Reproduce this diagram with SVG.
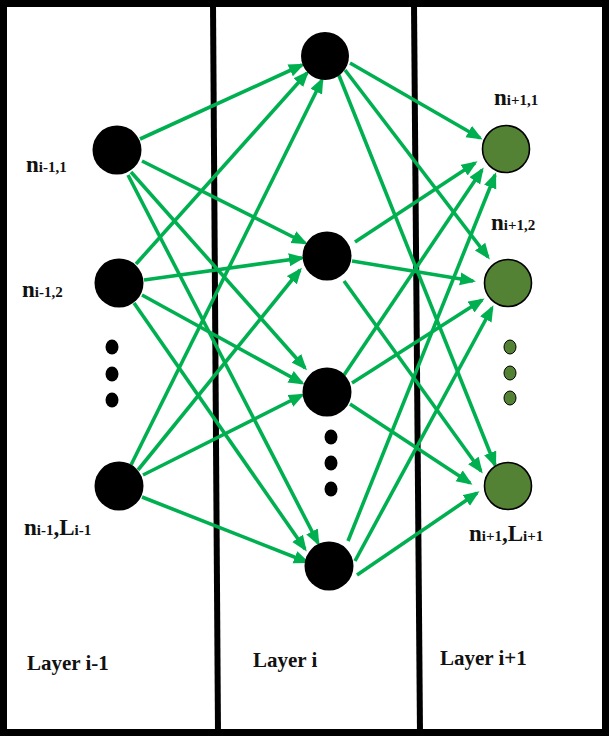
<svg xmlns="http://www.w3.org/2000/svg" width="609" height="737" viewBox="0 0 609 737">
  <style>
    .frame { fill: none; stroke: #000; stroke-width: 7; }
    .divider { stroke: #000; stroke-width: 6; }
    .neuron { fill: #000; }
    .out { fill: #548235; stroke: #000; stroke-width: 1.6; }
    .dot { fill: #000; }
    .gdot { fill: #548235; stroke: #000; stroke-width: 1; }
    .edge { stroke: #00B050; stroke-width: 3.6; fill: none; marker-end: url(#arrow); }
    .lbl { font-family: "Liberation Serif", "Times New Roman", serif; font-weight: bold; fill: #111; }
    .big { font-size: 23px; }
    .sub { font-size: 15px; }
    .layer { font-family: "Liberation Serif", "Times New Roman", serif; font-weight: bold; font-size: 21px; fill: #111; }
  </style>
  <defs>
    <marker id="arrow" markerUnits="userSpaceOnUse" markerWidth="18" markerHeight="14" refX="13" refY="6.5" orient="auto">
      <path d="M0,0 L16,6.5 L0,13 Z" fill="#00B050"/>
    </marker>
  </defs>

  <rect x="0" y="0" width="609" height="737" fill="#fff"/>

  <!-- frame and layer dividers -->
  <g id="frame">
    <rect class="frame" x="3.5" y="3.5" width="602" height="729"/>
    <line class="divider" x1="213" y1="4" x2="218" y2="733"/>
    <line class="divider" x1="414" y1="4" x2="420" y2="733"/>
  </g>

  <!-- weighted connections -->
  <g id="connectors">
    <!-- layer i-1 to layer i -->
    <path class="edge" d="M140,139 L302,65"/>
    <path class="edge" d="M142,161 L305,243"/>
    <path class="edge" d="M131,172 L305,368"/>
    <path class="edge" d="M128,175 L318,543"/>

    <path class="edge" d="M136,264 L307,73"/>
    <path class="edge" d="M144,280 L302,258"/>
    <path class="edge" d="M142,295 L302,383"/>
    <path class="edge" d="M134,303 L305,549"/>

    <path class="edge" d="M131,465 L322,80"/>
    <path class="edge" d="M138,470 L300,270"/>
    <path class="edge" d="M143,475 L302,395"/>
    <path class="edge" d="M142,497 L307,562"/>

    <!-- layer i to layer i+1 -->
    <path class="edge" d="M350,63 L480,138"/>
    <path class="edge" d="M345,70 L488,257"/>
    <path class="edge" d="M338,73 L495,465"/>

    <path class="edge" d="M355,242 L475,163"/>
    <path class="edge" d="M352,261 L473,281"/>
    <path class="edge" d="M344,281 L481,471"/>

    <path class="edge" d="M342,378 L482,170"/>
    <path class="edge" d="M352,383 L482,300"/>
    <path class="edge" d="M350,404 L470,483"/>

    <path class="edge" d="M348,541 L495,175"/>
    <path class="edge" d="M355,561 L492,308"/>
    <path class="edge" d="M357,575 L477,493"/>
  </g>

  <!-- layer i-1 -->
  <g id="n-prev-1"><circle class="neuron" cx="117" cy="150" r="24.5"/></g>
  <g id="n-prev-2"><circle class="neuron" cx="119" cy="283" r="24.5"/></g>
  <g id="n-prev-dots">
    <ellipse class="dot" cx="112" cy="347" rx="6.5" ry="7.5"/>
    <ellipse class="dot" cx="112" cy="374" rx="6.5" ry="7.5"/>
    <ellipse class="dot" cx="112" cy="400" rx="6.5" ry="7.5"/>
  </g>
  <g id="n-prev-L"><circle class="neuron" cx="119" cy="486" r="24.5"/></g>

  <!-- layer i -->
  <g id="n-cur-1"><circle class="neuron" cx="325" cy="56" r="24"/></g>
  <g id="n-cur-2"><circle class="neuron" cx="327" cy="256" r="24.5"/></g>
  <g id="n-cur-3"><circle class="neuron" cx="327" cy="392" r="24.5"/></g>
  <g id="n-cur-dots">
    <ellipse class="dot" cx="331" cy="437" rx="6.5" ry="7.5"/>
    <ellipse class="dot" cx="331" cy="463" rx="6.5" ry="7.5"/>
    <ellipse class="dot" cx="331" cy="489" rx="6.5" ry="7.5"/>
  </g>
  <g id="n-cur-L"><circle class="neuron" cx="329" cy="566" r="24.5"/></g>

  <!-- layer i+1 -->
  <g id="n-next-1"><circle class="out" cx="506" cy="149" r="23.5"/></g>
  <g id="n-next-2"><circle class="out" cx="508" cy="283" r="23.5"/></g>
  <g id="n-next-dots">
    <ellipse class="gdot" cx="510" cy="347" rx="6" ry="7"/>
    <ellipse class="gdot" cx="510" cy="373" rx="6" ry="7"/>
    <ellipse class="gdot" cx="510" cy="398" rx="6" ry="7"/>
  </g>
  <g id="n-next-L"><circle class="out" cx="508" cy="486" r="23.5"/></g>

  <!-- node labels -->
  <g id="labels">
    <text class="lbl" x="26" y="172"><tspan class="big">n</tspan><tspan class="sub">i-1,1</tspan></text>
    <text class="lbl" x="22" y="297"><tspan class="big">n</tspan><tspan class="sub">i-1,2</tspan></text>
    <text class="lbl" x="24" y="535"><tspan class="big">n</tspan><tspan class="sub">i-1</tspan><tspan class="big">,L</tspan><tspan class="sub">i-1</tspan></text>
    <text class="lbl" x="494" y="105"><tspan class="big">n</tspan><tspan class="sub">i+1,1</tspan></text>
    <text class="lbl" x="491" y="230"><tspan class="big">n</tspan><tspan class="sub">i+1,2</tspan></text>
    <text class="lbl" x="469" y="541"><tspan class="big">n</tspan><tspan class="sub">i+1</tspan><tspan class="big">,L</tspan><tspan class="sub">i+1</tspan></text>
  </g>

  <!-- layer captions -->
  <g id="captions">
    <text class="layer" x="27" y="670">Layer i-1</text>
    <text class="layer" x="253" y="667">Layer i</text>
    <text class="layer" x="440" y="665">Layer i+1</text>
  </g>
</svg>
